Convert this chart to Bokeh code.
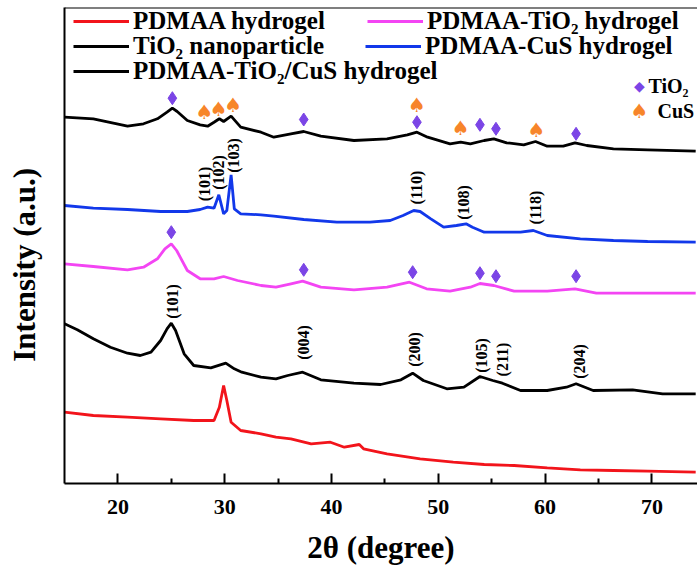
import math
from bokeh.plotting import figure
from bokeh.models import Legend, LegendItem, FixedTicker, Span, Label
from bokeh.core.properties import value
from bokeh.embed import file_html
from bokeh.resources import INLINE

# ---------------- data (2theta in degree, intensity in a.u., stacked offsets) -------------
comp_x = [15, 17.7, 20.9, 22.4, 23.7, 24.6, 25.1, 25.55, 26.5, 27.7, 28.4, 29.0, 29.5, 29.9,
          30.6, 31.5, 33.4, 34.6, 36.2, 37.4, 39.0, 42.1, 45.2, 47.1, 48.0, 49.0, 51.1, 52.1,
          53.0, 54.3, 55.2, 56.4, 58.0, 59.1, 60.2, 61.7, 62.8, 63.9, 66.4, 69.6, 74.1]
comp_y = [366.3, 364.7, 357.3, 359.7, 364.7, 371.3, 375.3, 372, 363, 358.7, 357.3, 361.3, 364.7,
          362, 367.3, 356.3, 351.3, 346.3, 349.7, 352, 347.3, 343, 344.7, 348.7, 351.3, 346.3,
          339.7, 341.3, 339.7, 343, 344.7, 340.7, 338.7, 342, 337.3, 337.3, 340.7, 338, 334.7,
          333.7, 332.3]

cus_x = [15, 17.7, 20.9, 24.0, 26.5, 27.7, 28.4, 29.0, 29.45, 29.9, 30.2, 30.6, 30.9, 31.5,
         33.4, 34.6, 37.4, 40.5, 43.6, 45.5, 46.7, 47.7, 48.3, 49.3, 50.5, 51.7, 52.6, 53.2,
         54.3, 55.8, 57.7, 58.9, 60.2, 63.3, 66.4, 69.6, 74.1]
cus_y = [278, 275.3, 274, 272, 272, 274, 276.3, 275.3, 288.7, 269.7, 273, 308.7, 274.7, 269.7,
         268.7, 267.3, 264, 261.3, 261.3, 263, 268, 273, 272, 264.7, 256.3, 258, 259.7, 256.3,
         251.3, 251.3, 251.3, 253, 248, 244.7, 243, 242, 241.3]

tio2gel_x = [15, 17.7, 20.9, 22.4, 23.7, 24.4, 25.0, 25.5, 26.5, 27.7, 29.0, 29.9, 31.2, 33.4,
             34.8, 36.2, 37.3, 39.0, 42.1, 45.2, 47.3, 48.9, 51.1, 53.0, 53.9, 55.2, 57.1, 60.2,
             62.8, 64.8, 68.0, 74.1]
tio2gel_y = [219.7, 217, 213.7, 216.3, 224.7, 234.7, 239.7, 233, 213, 204.7, 204.7, 207, 203,
             198, 196.3, 199.7, 202.3, 196.3, 193.7, 196.3, 201.3, 194.7, 192.3, 196.3, 200, 198,
             192.3, 192.3, 194.7, 190.3, 190.3, 190.3]

tio2_x = [15, 16.2, 17.7, 19.3, 20.9, 22.1, 23.1, 24.0, 24.6, 25.0, 25.4, 26.2, 27.1, 28.7,
          30.1, 30.9, 31.6, 33.4, 34.8, 35.9, 37.3, 39.0, 42.1, 44.6, 46.5, 47.6, 48.6, 50.8,
          52.4, 53.9, 55.1, 56.0, 57.7, 60.2, 62.0, 62.9, 64.5, 68.2, 71.0, 74.1]
tio2_y = [159.7, 153.7, 144.7, 136.3, 130.3, 128, 131.3, 143, 154.7, 160.3, 153, 129.7, 118,
          115.7, 120.3, 114.7, 111.3, 106.3, 104.7, 108, 111.3, 103.7, 100.3, 99, 103.7, 110.3,
          103, 94.7, 96.3, 107, 103, 100.3, 93, 93, 96.3, 99.7, 93, 93.7, 89.7, 89.7]

pdmaa_x = [15, 17.7, 20.9, 24.0, 27.1, 29.0, 29.5, 29.9, 30.2, 30.6, 31.5, 33.4, 34.8, 36.2,
           38.1, 39.9, 41.2, 42.6, 43.0, 45.2, 48.3, 51.4, 54.3, 57.1, 60.2, 63.3, 66.4, 69.6, 74.1]
pdmaa_y = [71.3, 68, 66.3, 64.7, 63, 63, 76.3, 98, 83, 61.3, 53, 49.7, 46.3, 44.7, 39.7, 41.3,
           36.3, 39, 34.7, 29.7, 24.7, 21.3, 19, 18, 15.7, 13.7, 13, 12.3, 11.3]

# phase markers
tio2_mark_top_x = [25.1, 37.4, 48.0, 53.9, 55.4, 62.9]
tio2_mark_top_y = [385.3, 364, 361.3, 358.7, 354.7, 349.7]
tio2_mark_gel_x = [25.0, 37.4, 47.6, 53.9, 55.4, 62.9]
tio2_mark_gel_y = [251.3, 213.7, 211.3, 210.3, 207.3, 207.3]
cus_mark_x = [28.1, 29.45, 30.8, 48.0, 52.1, 59.2]
cus_mark_y = [371.3, 374.7, 378.7, 378.7, 355.3, 353.7]

# Miller indices
cus_hkl = ["(101)", "(102)", "(103)", "(110)", "(108)", "(118)"]
cus_hkl_x = [28.1, 29.45, 30.85, 48.0, 52.4, 59.1]
cus_hkl_y = [299.5, 311, 328, 296, 281, 276]
tio2_hkl = ["(101)", "(004)", "(200)", "(105)", "(211)", "(204)"]
tio2_hkl_x = [25.1, 37.4, 47.8, 54.0, 56.0, 63.2]
tio2_hkl_y = [182, 141, 134, 128, 124, 122]

x_ticks = [20, 30, 40, 50, 60, 70]
x_minor = [25, 35, 45, 55, 65]

# ---------------- styling -------------
FONT_NAME = "Liberation Serif"
FONT = value(FONT_NAME)
RED, MAG, BLUE, BLACK = "#F2141B", "#F345F3", "#1238EA", "#000000"
PURPLE, ORANGE = "#7B45E6", "#F7852A"

p = figure(width=697, height=572, x_range=(15, 74.27), y_range=(0, 476),
           output_backend="svg", toolbar_location=None,
           min_border_left=64, min_border_right=0, min_border_top=7, min_border_bottom=89)
p.outline_line_color = None
p.grid.visible = False
p.background_fill_color = "white"

lw = 2.8
r_red = p.line(pdmaa_x, pdmaa_y, line_color=RED, line_width=lw)
r_tio2 = p.line(tio2_x, tio2_y, line_color=BLACK, line_width=lw)
r_mag = p.line(tio2gel_x, tio2gel_y, line_color=MAG, line_width=lw)
r_blue = p.line(cus_x, cus_y, line_color=BLUE, line_width=lw)
r_comp = p.line(comp_x, comp_y, line_color=BLACK, line_width=lw)

p.scatter(tio2_mark_top_x, tio2_mark_top_y, marker="diamond", size=13,
          fill_color=PURPLE, line_color=PURPLE)
p.scatter(tio2_mark_gel_x, tio2_mark_gel_y, marker="diamond", size=13,
          fill_color=PURPLE, line_color=PURPLE)
p.text(cus_mark_x, cus_mark_y, text=["\u2660"] * len(cus_mark_x), text_color=ORANGE,
       text_font=value("DejaVu Sans"), text_font_size="20px",
       text_align="center", text_baseline="middle")

for hx, hy, ht in ((cus_hkl_x, cus_hkl_y, cus_hkl), (tio2_hkl_x, tio2_hkl_y, tio2_hkl)):
    p.text(hx, hy, text=ht, angle=math.pi / 2, text_align="center", text_baseline="middle",
           text_font=FONT, text_font_style="bold", text_font_size="16px", text_color="black")

# top frame line (right side is cropped in the reference)
p.add_layout(Span(location=476, dimension="width", line_color="black", line_width=2))

# axes
xa = p.xaxis[0]
xa.ticker = FixedTicker(ticks=x_ticks, minor_ticks=x_minor)
xa.axis_line_width = 2
xa.major_tick_line_width = 2
xa.minor_tick_line_width = 2
xa.major_tick_in = 10
xa.major_tick_out = 0
xa.minor_tick_in = 5
xa.minor_tick_out = 0
xa.major_label_text_font = FONT_NAME
xa.major_label_text_font_style = "bold"
xa.major_label_text_font_size = "22px"
xa.major_label_text_color = "black"
xa.major_label_standoff = 16
xa.axis_label = "2\u03b8 (degree)"
xa.axis_label_text_font = FONT_NAME
xa.axis_label_text_font_style = "bold"
xa.axis_label_text_font_size = "31px"
xa.axis_label_text_color = "black"
xa.axis_label_standoff = 13

ya = p.yaxis[0]
ya.ticker = FixedTicker(ticks=[])
ya.axis_line_width = 2
ya.major_tick_line_color = None
ya.minor_tick_line_color = None
ya.major_tick_out = 0
ya.major_label_standoff = 0
# trailing no-break spaces move the (bottom-to-top) title slightly down, as in the reference
ya.axis_label = "Intensity (a.u.)" + "\u00a0" * 5
ya.axis_label_text_font = FONT_NAME
ya.axis_label_text_font_style = "bold"
ya.axis_label_text_font_size = "31px"
ya.axis_label_text_color = "black"
ya.axis_label_standoff = 23

# legend rows
rows = [
    ([("PDMAA hydrogel", r_red), ("PDMAA-TiO\u2082 hydrogel", r_mag)], 448, 42),
    ([("TiO\u2082 nanoparticle", r_tio2), ("PDMAA-CuS hydrogel", r_blue)], 423, 41),
    ([("PDMAA-TiO\u2082/CuS hydrogel", r_comp)], 398, 41),
]
for items, ybot, sp in rows:
    leg = Legend(items=[LegendItem(label=t, renderers=[r]) for t, r in items],
                 orientation="horizontal", location=(9, ybot),
                 glyph_width=56, glyph_height=26, label_height=26, label_standoff=4,
                 spacing=sp, padding=0, margin=0,
                 background_fill_alpha=0, border_line_alpha=0,
                 label_text_font=FONT_NAME, label_text_font_style="bold",
                 label_text_font_size="25px", label_text_color="black")
    p.add_layout(leg)

# phase key (right)
p.add_layout(Label(x=575, y=398, x_units="screen", y_units="screen", text="\u25c6",
                   text_color=PURPLE, text_font="DejaVu Sans", text_font_size="14px",
                   text_align="center", text_baseline="middle"))
p.add_layout(Label(x=575, y=373, x_units="screen", y_units="screen", text="\u2660",
                   text_color=ORANGE, text_font="DejaVu Sans", text_font_size="20px",
                   text_align="center", text_baseline="middle"))
p.add_layout(Label(x=584, y=398, x_units="screen", y_units="screen", text="TiO\u2082",
                   text_color="black", text_font=FONT_NAME, text_font_style="bold",
                   text_font_size="20px", text_align="left", text_baseline="middle"))
p.add_layout(Label(x=593, y=373, x_units="screen", y_units="screen", text="CuS",
                   text_color="black", text_font=FONT_NAME, text_font_style="bold",
                   text_font_size="20px", text_align="left", text_baseline="middle"))

open("out.html", "w").write(file_html(p, INLINE))
